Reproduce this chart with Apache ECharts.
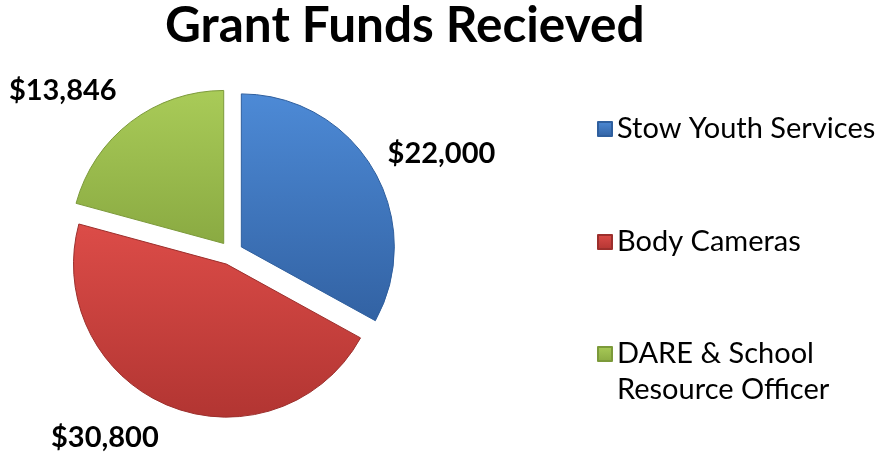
<!DOCTYPE html>
<html>
<head>
<meta charset="utf-8">
<script src="https://cdn.jsdelivr.net/npm/echarts@6/dist/echarts.min.js"></script>
<style>
  html, body { margin: 0; padding: 0; background: #fff; }
  #chart { width: 882px; height: 453px; }
</style>
</head>
<body>
<div id="chart"></div>
<script>
const categories = ['Stow Youth Services', 'Body Cameras', 'DARE & School Resource Officer']
const amounts = [22000, 30800, 13846]
const legendNames = ['Stow Youth Services', 'Body Cameras', 'DARE & School\nResource Officer']

// top, bottom shades for each slice
const shades = [
  ['#4d8ad6', '#3262a3'],
  ['#dc4c48', '#b23532'],
  ['#a9cb58', '#8aaa42']
]
const edges = ['#2f5f9e', '#9c2f2c', '#7c9a3a']
// nudges for the value labels
const labelShift = [[-13, -3], [5, 9], [7, -11]]

const font = 'Lato, "Open Sans", sans-serif'

function fill(i) {
  return {
    type: 'linear', x: 0, y: 0, x2: 0, y2: 1,
    colorStops: [
      { offset: 0, color: shades[i][0] },
      { offset: 1, color: shades[i][1] }
    ]
  }
}

const chart = echarts.init(document.getElementById('chart'))

const option = {
  backgroundColor: '#fff',
  animation: false,
  title: {
    text: 'Grant Funds Recieved',
    left: 160,
    top: -4,
    textStyle: {
      fontFamily: font,
      fontWeight: 'bold',
      fontSize: 49.5,
      color: '#000'
    }
  },
  legend: [{
    orient: 'vertical',
    left: 592,
    top: 109,
    itemWidth: 14,
    itemHeight: 14,
    itemGap: 83,
    icon: 'rect',
    selectedMode: false,
    data: [categories[0], categories[1]],
    textStyle: { fontFamily: font, fontSize: 29, color: '#000', lineHeight: 30 }
  }, {
    orient: 'vertical',
    left: 592,
    top: 295,
    itemWidth: 14,
    itemHeight: 14,
    icon: 'rect',
    selectedMode: false,
    data: [categories[2]],
    // blank first line keeps the icon level with "DARE & School"
    formatter: () => ' \n' + legendNames[2],
    textStyle: { fontFamily: font, fontSize: 29, color: '#000', lineHeight: 36 }
  }],
  series: [{
    type: 'pie',
    center: [231, 253],
    radius: 153,
    startAngle: 90,
    clockwise: true,
    selectedMode: 'multiple',
    selectedOffset: 12,
    label: {
      show: true,
      position: 'outside',
      fontFamily: font,
      fontWeight: 'bold',
      fontSize: 29,
      color: '#000',
      overflow: 'none',
      formatter: p => '$' + p.value.toLocaleString('en-US')
    },
    labelLine: { show: false, length: 25, length2: 1 },
    labelLayout: p => ({ dx: labelShift[p.dataIndex][0], dy: labelShift[p.dataIndex][1] }),
    emphasis: { disabled: true },
    data: amounts.map((v, i) => ({
      name: categories[i],
      value: v,
      selected: true,
      itemStyle: { color: fill(i), borderColor: edges[i], borderWidth: 1 },
      select: { itemStyle: { color: fill(i), borderColor: edges[i], borderWidth: 1 } }
    }))
  }]
}

chart.setOption(option)
</script>
</body>
</html>
